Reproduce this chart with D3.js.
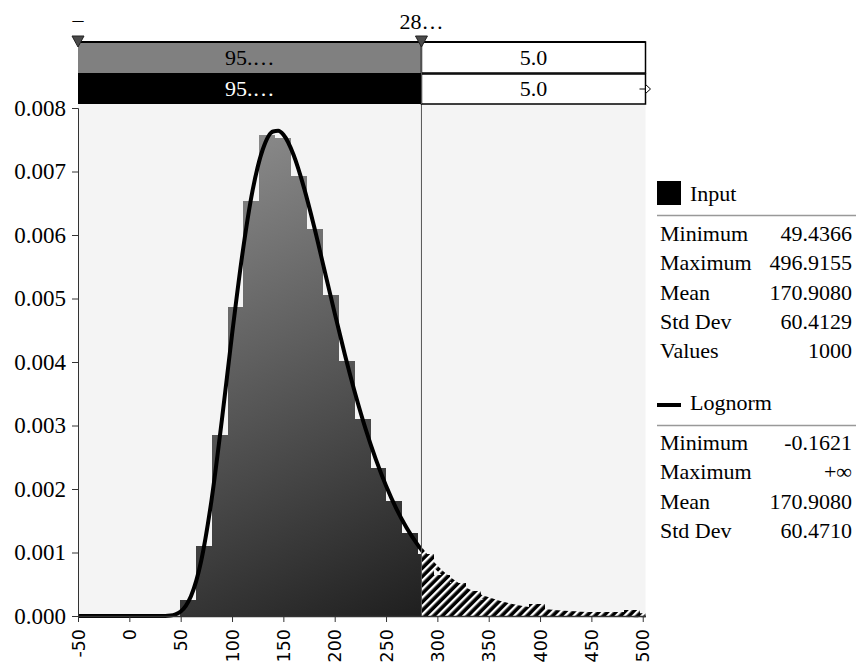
<!DOCTYPE html>
<html><head><meta charset="utf-8">
<script src="https://cdn.jsdelivr.net/npm/d3@7"></script>
<style>
html,body{margin:0;padding:0;background:#fff;}
svg{display:block;}
</style></head>
<body>
<svg id="chart" width="856" height="670"></svg>
<script>
// ---------- data ----------
const xTicks = [-50, 0, 50, 100, 150, 200, 250, 300, 350, 400, 450, 500];
const yTicks = [0, 0.001, 0.002, 0.003, 0.004, 0.005, 0.006, 0.007, 0.008];
const xDomain = [-50, 502.7];
const cutValue = 284.5;          // 95% delimiter
const leftLabel = "–";
const cutLabel = "28…";
const barLeftText = "95.…";
const barRightText = "5.0";
const binStart = 49.4366;
const binWidth = 15.4303;
// histogram densities (29 bins)
const binDensity = [0.000259, 0.00110, 0.00285, 0.00486, 0.00654, 0.00758, 0.00752, 0.00693,
  0.00609, 0.00505, 0.00402, 0.00311, 0.00233, 0.00181, 0.00130, 0.000972, 0.000648, 0.000518,
  0.000389, 0.000259, 0.000194, 0.000130, 0.000194, 0.000065, 0.000065, 0.000065, 0.000065,
  0.000065, 0.000097];
// fitted curve points
const curveX = [-50, 30, 40, 45, 50, 55, 60, 70, 80, 90, 100, 110, 120, 130, 140, 145, 150, 160,
  170, 180, 190, 200, 210, 220, 230, 240, 250, 260, 270, 280, 290, 300, 320, 340, 360, 380, 400,
  420, 440, 460, 480, 500, 502.7];
const curveY = [0, 0, 0.000008, 0.000026, 0.00007, 0.00016, 0.00031, 0.00087, 0.00182, 0.00307,
  0.00443, 0.00569, 0.0067, 0.00735, 0.00763, 0.00764, 0.00758, 0.00726, 0.00675, 0.00613, 0.00545,
  0.00477, 0.00411, 0.0035, 0.00295, 0.00247, 0.00205, 0.00169, 0.00139, 0.00114, 0.00093, 0.00075,
  0.00049, 0.00032, 0.00021, 0.000135, 0.000087, 0.000056, 0.000037, 0.000024, 0.000015, 0.00001,
  0.00001];
const inputStatsLabels = ["Minimum", "Maximum", "Mean", "Std Dev", "Values"];
const inputStatsValues = ["49.4366", "496.9155", "170.9080", "60.4129", "1000"];
const fitStatsLabels = ["Minimum", "Maximum", "Mean", "Std Dev"];
const fitStatsValues = ["-0.1621", "+∞", "170.9080", "60.4710"];
const inputName = "Input";
const fitName = "Lognorm";

// ---------- layout ----------
const L = 78, R = 645.5, T = 104, B = 616;
const serif = "'Liberation Serif','Times New Roman',serif";
const svg = d3.select("#chart");
const x = d3.scaleLinear().domain(xDomain).range([L, R]);
const y = d3.scaleLinear().domain([0, 0.008]).range([B, 108]);
const xc = x(cutValue);

const defs = svg.append("defs");
const grad = defs.append("linearGradient").attr("id", "g").attr("gradientUnits", "userSpaceOnUse")
  .attr("x1", 180).attr("y1", 110).attr("x2", 430).attr("y2", 616);
grad.append("stop").attr("offset", 0).attr("stop-color", "#959595");
grad.append("stop").attr("offset", 1).attr("stop-color", "#1e1e1e");
const pat = defs.append("pattern").attr("id", "hatch").attr("patternUnits", "userSpaceOnUse")
  .attr("width", 6).attr("height", 6).attr("patternTransform", "rotate(45)");
pat.append("rect").attr("width", 6).attr("height", 6).attr("fill", "#000");
pat.append("rect").attr("x", 0).attr("width", 2.4).attr("height", 6).attr("fill", "#fff");
defs.append("clipPath").attr("id", "cl").append("rect").attr("x", 0).attr("y", 0).attr("width", xc).attr("height", 670);
defs.append("clipPath").attr("id", "cr").append("rect").attr("x", xc).attr("y", 0).attr("width", R + 10 - xc).attr("height", 670);

// plot background
svg.append("rect").attr("x", L).attr("y", T).attr("width", R - L).attr("height", B - T).attr("fill", "#f4f4f4");

// histogram
const bins = binDensity.map((d, i) => ({x0: binStart + i * binWidth, x1: binStart + (i + 1) * binWidth, d}));
function drawBars(g, fill) {
  g.selectAll("rect").data(bins).join("rect")
    .attr("x", b => x(b.x0)).attr("width", b => x(b.x1) - x(b.x0) + 0.3)
    .attr("y", b => y(b.d)).attr("height", b => B - y(b.d))
    .attr("fill", fill).attr("shape-rendering", "crispEdges");
}
drawBars(svg.append("g").attr("clip-path", "url(#cl)"), "url(#g)");
drawBars(svg.append("g").attr("clip-path", "url(#cr)"), "url(#hatch)");

// fitted curve
const pts = curveX.map((v, i) => [v, curveY[i]]);
const line = d3.line().x(p => x(p[0])).y(p => y(p[1])).curve(d3.curveMonotoneX);
svg.append("path").attr("d", line(pts)).attr("fill", "none").attr("stroke", "#000")
  .attr("stroke-width", 4).attr("clip-path", "url(#cl)");
svg.append("path").attr("d", line(pts)).attr("fill", "none").attr("stroke", "url(#hatch)")
  .attr("stroke-width", 4).attr("clip-path", "url(#cr)");

// axes
const ya = svg.append("g").attr("transform", `translate(${L},0)`)
  .call(d3.axisLeft(y).tickValues(yTicks).tickFormat(d3.format(".3f")).tickSize(6).tickSizeOuter(6));
ya.select(".domain").attr("stroke", "#333");
ya.selectAll(".tick line").attr("stroke", "#333");
ya.selectAll("text").attr("font-family", serif).attr("font-size", 23).attr("fill", "#000").attr("x", -12);

const xa = svg.append("g").attr("transform", `translate(0,${B})`)
  .call(d3.axisBottom(x).tickValues(xTicks).tickFormat(d => String(d)).tickSize(6).tickSizeOuter(0));
xa.select(".domain").attr("stroke", "#333").attr("stroke-width", 1.5);
xa.selectAll(".tick line").attr("stroke", "#333");
xa.selectAll("text").attr("font-family", "'DejaVu Sans',sans-serif").attr("font-size", 17.5).attr("fill", "#000")
  .attr("transform", "rotate(-90)").attr("text-anchor", "end").attr("x", -13).attr("y", 0).attr("dy", "0.35em");

// cut line
svg.append("line").attr("x1", xc).attr("x2", xc).attr("y1", 73).attr("y2", B).attr("stroke", "#555").attr("stroke-width", 1);

// top bars
const r1 = 42, r2 = 73, r3 = 104;
svg.append("rect").attr("x", L).attr("y", r1).attr("width", xc - L).attr("height", r2 - r1).attr("fill", "#808080");
svg.append("rect").attr("x", xc).attr("y", r1).attr("width", R - xc).attr("height", r2 - r1).attr("fill", "#fff").attr("stroke", "#000").attr("stroke-width", 1.5);
svg.append("rect").attr("x", L).attr("y", r2).attr("width", xc - L).attr("height", r3 - r2).attr("fill", "#000");
svg.append("rect").attr("x", xc).attr("y", r2 + 1).attr("width", R - xc).attr("height", r3 - r2 - 1).attr("fill", "#fff").attr("stroke", "#000").attr("stroke-width", 1.5);
svg.append("line").attr("x1", L).attr("x2", R).attr("y1", r1).attr("y2", r1).attr("stroke", "#000").attr("stroke-width", 2);
svg.append("line").attr("x1", xc).attr("x2", xc).attr("y1", r1).attr("y2", r3).attr("stroke", "#555").attr("stroke-width", 1);
const tb = [[(L + xc) / 2, (r1 + r2) / 2, barLeftText, "#000"], [(xc + R) / 2, (r1 + r2) / 2, barRightText, "#000"],
            [(L + xc) / 2, (r2 + r3) / 2, barLeftText, "#fff"], [(xc + R) / 2, (r2 + r3) / 2, barRightText, "#000"]];
tb.forEach(t => svg.append("text").attr("x", t[0]).attr("y", t[1]).attr("dy", "0.35em").attr("text-anchor", "middle")
  .attr("font-family", serif).attr("font-size", 22).attr("fill", t[3]).text(t[2]));
// right arrow marker
svg.append("line").attr("x1", R - 6).attr("x2", R + 2).attr("y1", 89).attr("y2", 89).attr("stroke", "#000").attr("stroke-width", 1);
svg.append("path").attr("d", `M${R},84.5 L${R + 5},89 L${R},93.5 Z`).attr("fill", "#fff").attr("stroke", "#000").attr("stroke-width", 1);

// delimiter triangles
[L, xc].forEach(px => svg.append("path").attr("d", `M${px - 6},36 L${px + 6},36 L${px},47 Z`)
  .attr("fill", "#4a4a4a").attr("stroke", "#222").attr("stroke-width", 1));
svg.append("text").attr("x", L).attr("y", 27).attr("text-anchor", "middle").attr("font-family", serif).attr("font-size", 22).text(leftLabel);
svg.append("text").attr("x", xc).attr("y", 29).attr("text-anchor", "middle").attr("font-family", serif).attr("font-size", 22).text(cutLabel);

// legend
const lg = svg.append("g").attr("font-family", serif).attr("font-size", 22).attr("fill", "#000");
lg.append("rect").attr("x", 657).attr("y", 181).attr("width", 24).attr("height", 24).attr("fill", "#000");
lg.append("text").attr("x", 690).attr("y", 201).text(inputName);
lg.append("line").attr("x1", 657).attr("x2", 856).attr("y1", 215.5).attr("y2", 215.5).attr("stroke", "#999").attr("stroke-width", 1.5);
inputStatsLabels.forEach((s, i) => {
  lg.append("text").attr("x", 660).attr("y", 241 + i * 29.3).text(s);
  lg.append("text").attr("x", 852).attr("y", 241 + i * 29.3).attr("text-anchor", "end").text(inputStatsValues[i]);
});
lg.append("line").attr("x1", 657).attr("x2", 681).attr("y1", 405).attr("y2", 405).attr("stroke", "#000").attr("stroke-width", 4);
lg.append("text").attr("x", 690).attr("y", 410).text(fitName);
lg.append("line").attr("x1", 657).attr("x2", 856).attr("y1", 425.5).attr("y2", 425.5).attr("stroke", "#999").attr("stroke-width", 1.5);
fitStatsLabels.forEach((s, i) => {
  lg.append("text").attr("x", 660).attr("y", 450 + i * 29.3).text(s);
  lg.append("text").attr("x", 852).attr("y", 450 + i * 29.3).attr("text-anchor", "end").text(fitStatsValues[i]);
});
</script>
</body></html>
